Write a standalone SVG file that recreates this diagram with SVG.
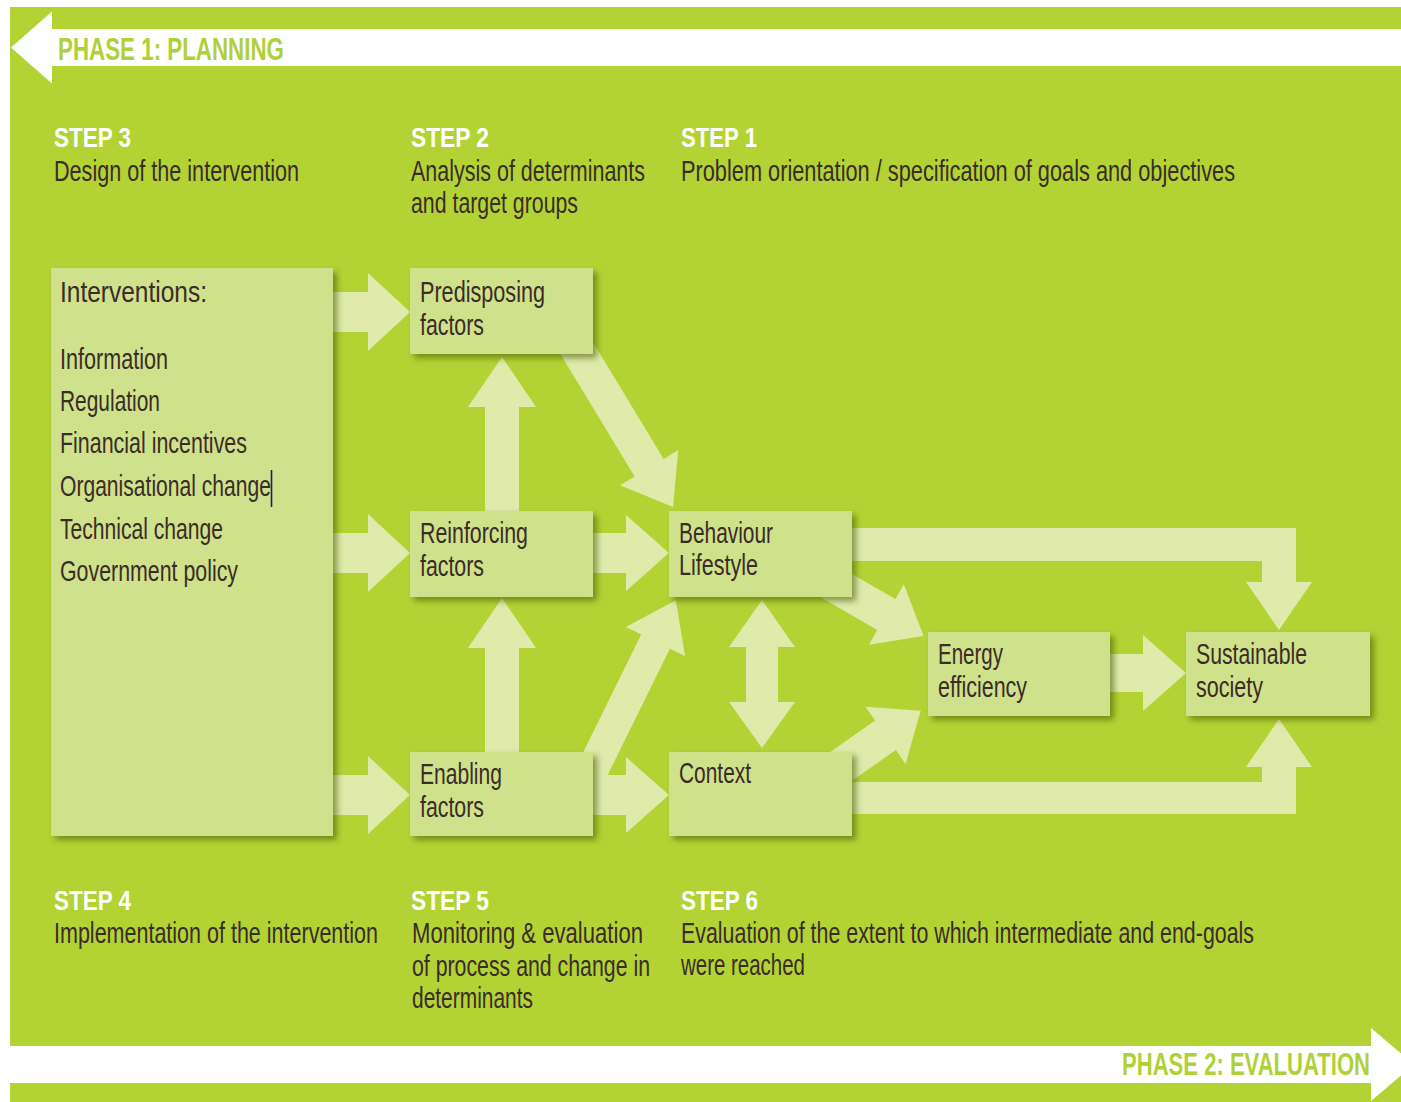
<svg xmlns="http://www.w3.org/2000/svg" width="1401" height="1102" viewBox="0 0 1401 1102">
  <defs>
    <filter id="shadow" x="-10%" y="-10%" width="130%" height="130%">
      <feDropShadow dx="4" dy="4" stdDeviation="3" flood-color="#4a5a05" flood-opacity="0.6"/>
    </filter>
    <style>
      .bg{fill:#b3d335}
      .band{fill:#ffffff}
      .box{fill:#d0e18b;filter:url(#shadow)}
      .arrow{fill:#dfeaab}
      text{font-family:"Liberation Sans",Arial,sans-serif}
      .t{font-size:29.5px;fill:#3a2c26}
      .step{font-size:28px;font-weight:bold;fill:#ffffff}
      .phase{font-size:31px;font-weight:bold;fill:#b0d03a}
    </style>
  </defs>

  <!-- background panel -->
  <rect class="bg" x="10" y="7" width="1391" height="1095"/>

  <!-- phase banners (text is set condensed: 75% horizontal scale) -->
  <g id="phase1">
    <polygon class="band" points="11,47.5 52,11.5 52,29 1401,29 1401,66 52,66 52,83.5"/>
    <text class="phase" transform="translate(58,60) scale(0.75,1)" textLength="301.3" lengthAdjust="spacingAndGlyphs">PHASE 1: PLANNING</text>
  </g>
  <g id="phase2">
    <polygon class="band" points="10,1046 1371,1046 1371,1028 1414,1064.5 1371,1101 1371,1083 10,1083"/>
    <text class="phase" transform="translate(1122,1075) scale(0.75,1)" textLength="330.7" lengthAdjust="spacingAndGlyphs">PHASE 2: EVALUATION</text>
  </g>

  <!-- step captions -->
  <g id="step3">
    <text class="step" transform="translate(54,147) scale(0.75,1)" textLength="102.7" lengthAdjust="spacingAndGlyphs">STEP 3</text>
    <text class="t" transform="translate(54,181) scale(0.75,1)" textLength="326.7" lengthAdjust="spacingAndGlyphs">Design of the intervention</text>
  </g>
  <g id="step2">
    <text class="step" transform="translate(411,147) scale(0.75,1)" textLength="104" lengthAdjust="spacingAndGlyphs">STEP 2</text>
    <text class="t" transform="translate(411,181) scale(0.75,1)" textLength="312" lengthAdjust="spacingAndGlyphs">Analysis of determinants</text>
    <text class="t" transform="translate(411,213) scale(0.75,1)" textLength="222.7" lengthAdjust="spacingAndGlyphs">and target groups</text>
  </g>
  <g id="step1">
    <text class="step" transform="translate(681,147) scale(0.75,1)" textLength="101.3" lengthAdjust="spacingAndGlyphs">STEP 1</text>
    <text class="t" transform="translate(681,181) scale(0.75,1)" textLength="738.7" lengthAdjust="spacingAndGlyphs">Problem orientation / specification of goals and objectives</text>
  </g>
  <g id="step4">
    <text class="step" transform="translate(54,910) scale(0.75,1)" textLength="102.7" lengthAdjust="spacingAndGlyphs">STEP 4</text>
    <text class="t" transform="translate(54,943) scale(0.75,1)" textLength="432" lengthAdjust="spacingAndGlyphs">Implementation of the intervention</text>
  </g>
  <g id="step5">
    <text class="step" transform="translate(411,910) scale(0.75,1)" textLength="104" lengthAdjust="spacingAndGlyphs">STEP 5</text>
    <text class="t" transform="translate(412,943) scale(0.75,1)" textLength="308" lengthAdjust="spacingAndGlyphs">Monitoring &amp; evaluation</text>
    <text class="t" transform="translate(412,976) scale(0.75,1)" textLength="317.3" lengthAdjust="spacingAndGlyphs">of process and change in</text>
    <text class="t" transform="translate(412,1008) scale(0.75,1)" textLength="161.3" lengthAdjust="spacingAndGlyphs">determinants</text>
  </g>
  <g id="step6">
    <text class="step" transform="translate(681,910) scale(0.75,1)" textLength="102.7" lengthAdjust="spacingAndGlyphs">STEP 6</text>
    <text class="t" transform="translate(681,943) scale(0.75,1)" textLength="764" lengthAdjust="spacingAndGlyphs">Evaluation of the extent to which intermediate and end-goals</text>
    <text class="t" transform="translate(681,975) scale(0.75,1)" textLength="165.3" lengthAdjust="spacingAndGlyphs">were reached</text>
  </g>

  <!-- block arrows between the boxes -->
  <g id="connectors">
    <!-- interventions to the three factor boxes -->
    <polygon class="arrow" points="333,292 368,292 368,273 410,312 368,351 368,332 333,332"/>
    <polygon class="arrow" points="333,533 368,533 368,514 410,553 368,592 368,573 333,573"/>
    <polygon class="arrow" points="333,775 368,775 368,756 410,795 368,834 368,815 333,815"/>
    <!-- upward arrows between factor boxes -->
    <polygon class="arrow" points="485,511 485,407 468,407 502,357 536,407 519,407 519,511"/>
    <polygon class="arrow" points="485,752 485,648 468,648 502,598 536,648 519,648 519,752"/>
    <!-- predisposing to behaviour -->
    <path class="arrow" d="M0,-17 H147 V-34 L193,0 L147,34 V17 H0 Z" transform="translate(573,342) rotate(58.78)"/>
    <!-- enabling to behaviour -->
    <path class="arrow" d="M0,-16 H171 V-33 L217,0 L171,33 V16 H0 Z" transform="translate(580,795) rotate(-63.79)"/>
    <!-- reinforcing to behaviour, enabling to context -->
    <polygon class="arrow" points="593,533 626,533 626,515 669,553 626,591 626,573 593,573"/>
    <polygon class="arrow" points="593,775 626,775 626,757 669,795 626,833 626,815 593,815"/>
    <!-- behaviour and context, both ways -->
    <polygon class="arrow" points="762,600 795,647 778,647 778,702 795,702 762,748 729,702 746,702 746,647 729,647"/>
    <!-- behaviour and context to energy efficiency -->
    <path class="arrow" d="M0,-18 H87 V-35 L130,0 L87,35 V18 H0 Z" transform="translate(811,571) rotate(30)"/>
    <path class="arrow" d="M0,-18 H97 V-35 L140,0 L97,35 V18 H0 Z" transform="translate(806,791) rotate(-35)"/>
    <!-- energy efficiency to sustainable society -->
    <polygon class="arrow" points="1110,654 1143,654 1143,635 1186,673 1143,711 1143,692 1110,692"/>
    <!-- elbow arrows to sustainable society -->
    <polygon class="arrow" points="840,528 1296,528 1296,582 1312,582 1279,630 1246,582 1262,582 1262,561 840,561"/>
    <polygon class="arrow" points="840,814 1296,814 1296,767 1312,767 1279,719 1246,767 1262,767 1262,782 840,782"/>
  </g>

  <!-- nodes -->
  <g id="interventions">
    <rect class="box" x="51" y="268" width="282" height="568"/>
    <text class="t" transform="translate(60,302) scale(0.75,1)" textLength="196" lengthAdjust="spacingAndGlyphs">Interventions:</text>
    <text class="t" transform="translate(60,369) scale(0.75,1)" textLength="144" lengthAdjust="spacingAndGlyphs">Information</text>
    <text class="t" transform="translate(60,411) scale(0.75,1)" textLength="133.3" lengthAdjust="spacingAndGlyphs">Regulation</text>
    <text class="t" transform="translate(60,453) scale(0.75,1)" textLength="249.3" lengthAdjust="spacingAndGlyphs">Financial incentives</text>
    <text class="t" transform="translate(60,496) scale(0.75,1)" textLength="281.3" lengthAdjust="spacingAndGlyphs">Organisational change</text>
    <line x1="271.5" y1="470" x2="271.5" y2="507" stroke="#1c1c70" stroke-width="1.6"/>
    <text class="t" transform="translate(60,539) scale(0.75,1)" textLength="217.3" lengthAdjust="spacingAndGlyphs">Technical change</text>
    <text class="t" transform="translate(60,581) scale(0.75,1)" textLength="237.3" lengthAdjust="spacingAndGlyphs">Government policy</text>
  </g>
  <g id="predisposing">
    <rect class="box" x="410" y="268" width="183" height="86"/>
    <text class="t" transform="translate(420,302) scale(0.75,1)" textLength="166.7" lengthAdjust="spacingAndGlyphs">Predisposing</text>
    <text class="t" transform="translate(420,335) scale(0.75,1)" textLength="85.3" lengthAdjust="spacingAndGlyphs">factors</text>
  </g>
  <g id="reinforcing">
    <rect class="box" x="410" y="511" width="183" height="86"/>
    <text class="t" transform="translate(420,543) scale(0.75,1)" textLength="144" lengthAdjust="spacingAndGlyphs">Reinforcing</text>
    <text class="t" transform="translate(420,576) scale(0.75,1)" textLength="85.3" lengthAdjust="spacingAndGlyphs">factors</text>
  </g>
  <g id="enabling">
    <rect class="box" x="410" y="752" width="183" height="84"/>
    <text class="t" transform="translate(420,784) scale(0.75,1)" textLength="109.3" lengthAdjust="spacingAndGlyphs">Enabling</text>
    <text class="t" transform="translate(420,817) scale(0.75,1)" textLength="85.3" lengthAdjust="spacingAndGlyphs">factors</text>
  </g>
  <g id="behaviour">
    <rect class="box" x="669" y="511" width="183" height="86"/>
    <text class="t" transform="translate(679,543) scale(0.75,1)" textLength="125.3" lengthAdjust="spacingAndGlyphs">Behaviour</text>
    <text class="t" transform="translate(679,575) scale(0.75,1)" textLength="105.3" lengthAdjust="spacingAndGlyphs">Lifestyle</text>
  </g>
  <g id="context">
    <rect class="box" x="669" y="752" width="183" height="84"/>
    <text class="t" transform="translate(679,783) scale(0.75,1)" textLength="96" lengthAdjust="spacingAndGlyphs">Context</text>
  </g>
  <g id="energy">
    <rect class="box" x="928" y="632" width="182" height="84"/>
    <text class="t" transform="translate(938,664) scale(0.75,1)" textLength="86.7" lengthAdjust="spacingAndGlyphs">Energy</text>
    <text class="t" transform="translate(938,697) scale(0.75,1)" textLength="118.7" lengthAdjust="spacingAndGlyphs">efficiency</text>
  </g>
  <g id="sustainable">
    <rect class="box" x="1186" y="632" width="184" height="84"/>
    <text class="t" transform="translate(1196,664) scale(0.75,1)" textLength="148" lengthAdjust="spacingAndGlyphs">Sustainable</text>
    <text class="t" transform="translate(1196,697) scale(0.75,1)" textLength="89.3" lengthAdjust="spacingAndGlyphs">society</text>
  </g>
</svg>
